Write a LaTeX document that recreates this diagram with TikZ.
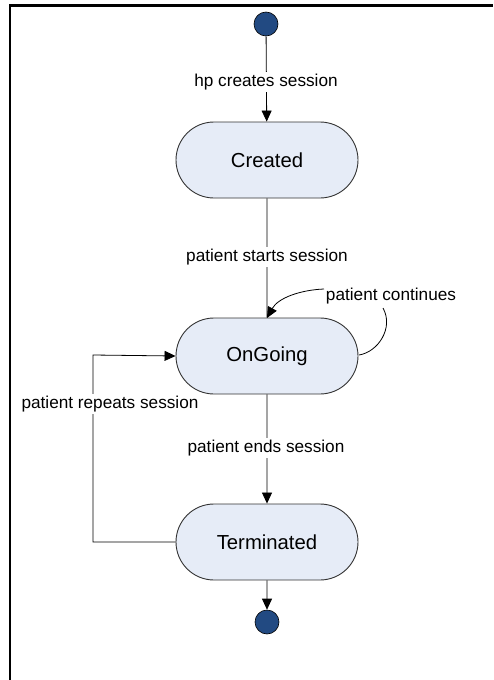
\documentclass[tikz,border=0pt]{standalone}
\usepackage{fontspec}
\setmainfont{Liberation Sans}
\usetikzlibrary{arrows.meta,shapes.misc}
\definecolor{statefill}{HTML}{E6ECF7}
\definecolor{dotfill}{HTML}{224A82}
\definecolor{edgegray}{HTML}{333333}
\begin{document}
\begin{tikzpicture}[x=1pt,y=-1pt,
  state/.style={rounded rectangle, draw=edgegray, line width=0.9pt, fill=statefill,
    minimum width=182pt, minimum height=76pt, inner sep=0pt,
    font=\fontsize{20.3}{24}\selectfont},
  dot/.style={circle, draw=black, line width=0.6pt, fill=dotfill, minimum size=24pt, inner sep=0pt},
  elabel/.style={fill=white, inner sep=1.5pt, font=\fontsize{17.2}{20}\selectfont},
  conn/.style={line width=0.8pt, draw=black},
  arr/.style={conn, -{Triangle[length=11pt,width=10pt]}}]
\useasboundingbox (0,0) rectangle (493,680);
\draw[line width=2.2pt] (10,680) -- (10,5.5) -- (493,5.5);

\node[dot] (start) at (266,24) {};
\node[state] (created) at (267,160) {Created};
\node[state] (ongoing) at (267,356) {OnGoing};
\node[state] (term) at (267,542) {Terminated};
\node[dot] (final) at (267,622) {};

\draw[arr] (start) -- (created);
\node[elabel] (l1) at (266,82) {hp creates session};

\draw[conn] (created) -- (ongoing);
\node[elabel] (l2) at (267,257) {patient starts session};

\draw[arr] (ongoing) -- (term);
\node[elabel] (l3) at (266,448) {patient ends session};

\draw[arr] (term) -- (final);

\coordinate (rp) at (93,542);
\coordinate (rq) at (93,355);
\draw[arr] (term.west) -- (rp) -- (rq) -- (ongoing.west);
\node[elabel] (l4) at (110,404) {patient repeats session};

\node[font=\fontsize{17.2}{20}\selectfont, inner sep=1pt] (l5) at (391,296) {patient continues};
\coordinate (ce) at (359,355);
\coordinate (cb) at (383,308);
\coordinate (cl) at (324,289);
\coordinate (ct) at (267,318);
\draw[conn] (ce) .. controls (378,352) and (394,328) .. (cb);
\draw[arr] (cl) .. controls (300,290) and (278,298) .. (ct);
\end{tikzpicture}
\end{document}
